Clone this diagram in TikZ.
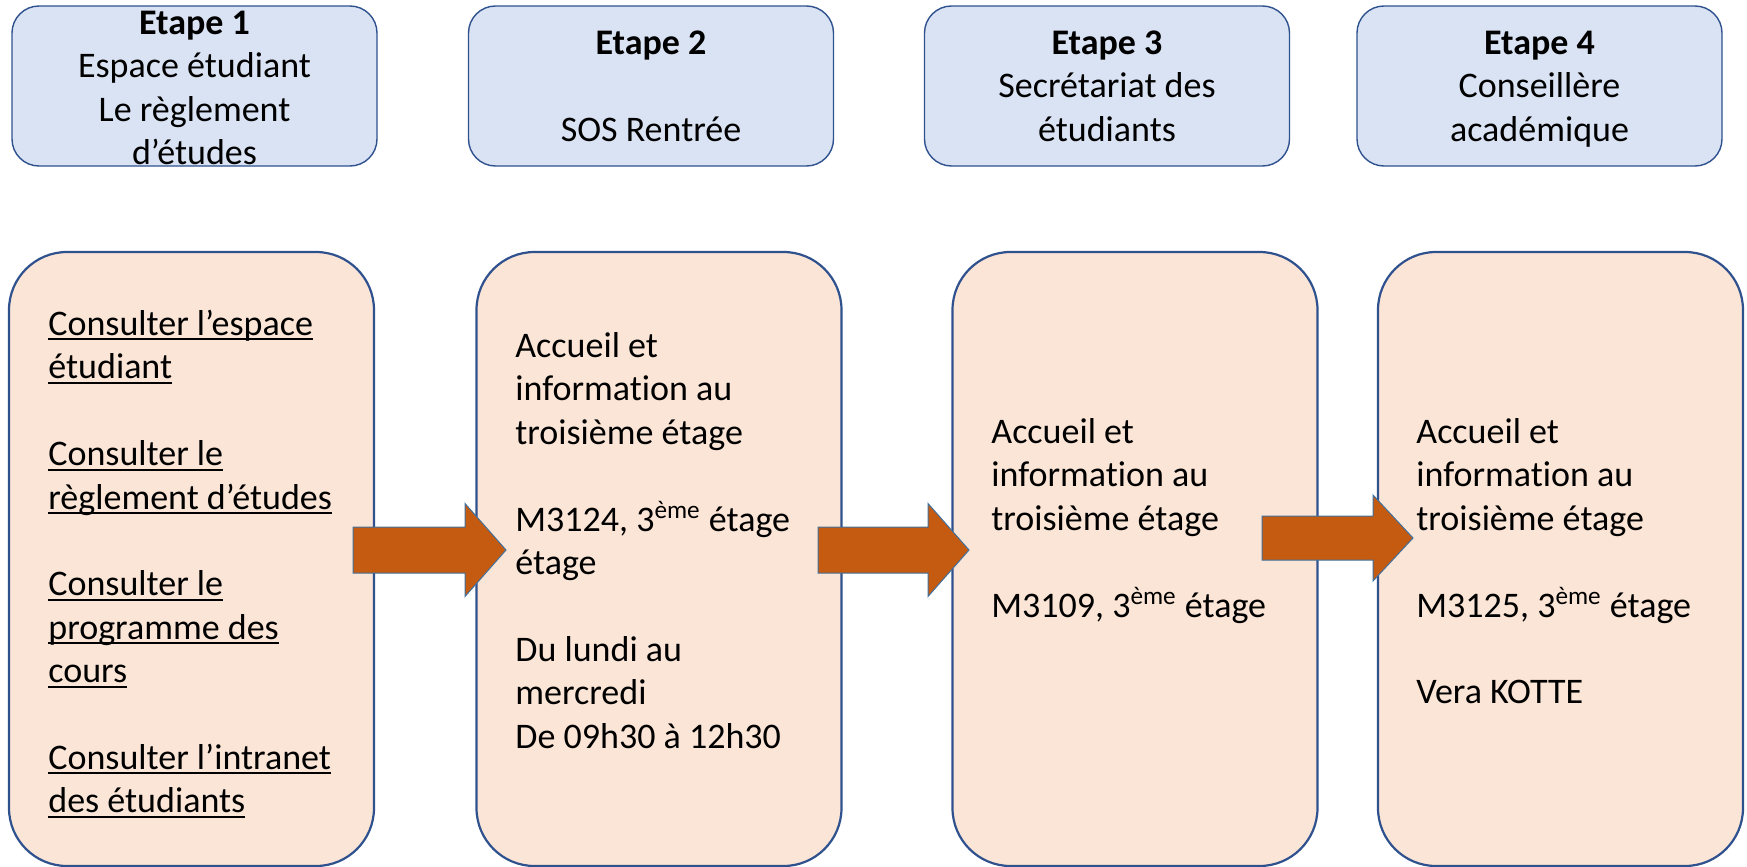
\documentclass[tikz,border=0pt]{standalone}
\usepackage{fontspec}
\setmainfont{Carlito}[Ligatures=NoCommon]
\usetikzlibrary{calc}
\definecolor{topfill}{HTML}{DAE3F3}
\definecolor{botfill}{HTML}{FBE5D6}
\definecolor{edgeblue}{HTML}{2F528F}
\definecolor{arrowfill}{HTML}{C55A11}
\definecolor{arrowedge}{HTML}{41719C}
\newcommand\ulx[1]{\leavevmode\setbox0\hbox{#1}\rlap{\rule[-2.5pt]{\wd0}{1pt}}\box0}
\newcommand\firstline{\leavevmode\rule{0pt}{15pt}}
\newcommand\blockarrow[5]{%
  \filldraw[arrowstyle] ($(#1)+(0,-#3)$) -- ($(#2)+(-#5,-#3)$) -- ($(#2)+(-#5,-#4)$) -- (#2)
    -- ($(#2)+(-#5,#4)$) -- ($(#2)+(-#5,#3)$) -- ($(#1)+(0,#3)$) -- cycle;}
\tikzset{
  topbox/.style={draw=edgeblue, fill=topfill, line width=0.7pt, rounded corners=13.5pt,
    minimum width=182.5pt, minimum height=80pt, inner sep=0pt},
  botbox/.style={draw=edgeblue, fill=botfill, line width=1.1pt, rounded corners=29pt,
    minimum width=182.5pt, minimum height=307pt, inner sep=0pt},
  headtext/.style={anchor=north, inner sep=0pt, align=center,
    font=\fontsize{18pt}{21.7pt}\selectfont},
  bodytext/.style={anchor=north west, inner sep=0pt, align=left,
    font=\fontsize{18pt}{21.7pt}\selectfont},
  arrowstyle/.style={fill=arrowfill, draw=arrowedge, line width=0.5pt}
}
\begin{document}
\begin{tikzpicture}[x=0.5pt, y=-0.5pt]
\useasboundingbox (0,0) rectangle (1747,867);
\fill[white] (0,0) rectangle (1747,867);

% top boxes
\node[topbox] (s1) at (194.5,86) {};
\node[topbox] (s2) at (651,86) {};
\node[topbox] (s3) at (1107,86) {};
\node[topbox] (s4) at (1539.5,86) {};

% bottom boxes
\node[botbox] (b1) at (191.5,559) {};
\node[botbox] (b2) at (659,559) {};
\node[botbox] (b3) at (1135,559) {};
\node[botbox] (b4) at (1560.5,559) {};

% arrows
\coordinate (a1s) at (353,550);
\coordinate (a1e) at (506,550);
\coordinate (a2s) at (818,550);
\coordinate (a2e) at (969,550);
\coordinate (a3s) at (1262,538);
\coordinate (a3e) at (1413,538);
\blockarrow{a1s}{a1e}{23}{46.5}{41}
\blockarrow{a2s}{a2e}{23}{46.5}{41}
\blockarrow{a3s}{a3e}{22}{43}{40}

% top texts
\node[headtext] (h1) at (194.5,4) {\firstline\textbf{Etape 1}\\Espace étudiant\\Le règlement\\d’études};
\node[headtext] (h2) at (651,24) {\firstline\textbf{Etape 2}\\[21.7pt]SOS Rentrée};
\node[headtext] (h3) at (1107,24) {\firstline\textbf{Etape 3}\\Secrétariat des\\étudiants};
\node[headtext] (h4) at (1539.5,24) {\firstline\textbf{Etape 4}\\Conseillère\\académique};

% bottom texts
\node[bodytext] (t1) at (48,305) {\firstline\ulx{Consulter l’espace}\\\ulx{étudiant}\\[21.7pt]%
\ulx{Consulter le}\\\ulx{règlement d’études}\\[21.7pt]%
\ulx{Consulter le}\\\ulx{programme des}\\\ulx{cours}\\[21.7pt]%
\ulx{Consulter l’intranet}\\\ulx{des étudiants}};
\node[bodytext] (t2) at (515,327) {\firstline Accueil et\\information au\\troisième étage\\[21.7pt]%
M3124, 3\textsuperscript{ème} étage\\étage\\[21.7pt]%
Du lundi au\\mercredi\\De 09h30 à 12h30};
\node[bodytext] (t3) at (991,413) {\firstline Accueil et\\information au\\troisième étage\\[21.7pt]%
M3109, 3\textsuperscript{ème} étage};
\node[bodytext] (t4) at (1416,413) {\firstline Accueil et\\information au\\troisième étage\\[21.7pt]%
M3125, 3\textsuperscript{ème} étage\\[21.7pt]%
Vera KOTTE};
\end{tikzpicture}
\end{document}
